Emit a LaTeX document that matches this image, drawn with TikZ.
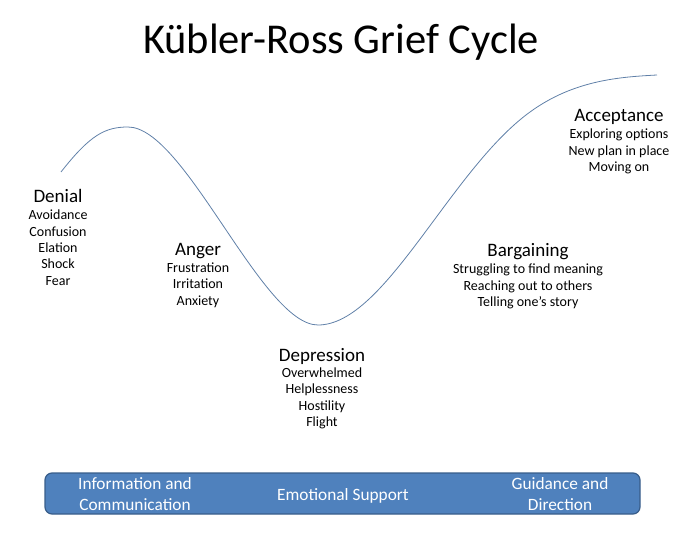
\documentclass[tikz,border=0pt]{standalone}
\usepackage{fontspec}
\setmainfont{Carlito}
\usetikzlibrary{positioning, calc}
\definecolor{curveblue}{RGB}{96, 128, 168}
\definecolor{barblue}{RGB}{79, 129, 189}
\definecolor{bardark}{RGB}{56, 93, 138}

\begin{document}
\begin{tikzpicture}[x=1pt, y=-1pt,
    stage/.style={inner sep=0pt, anchor=base, font=\fontsize{19}{22}\selectfont},
    detail/.style={inner sep=0pt, anchor=base, align=center,
                   font=\fontsize{14}{16.4}\selectfont},
    bar/.style={draw=bardark, fill=barblue, line width=1.2pt, rounded corners=7pt,
                minimum width=595pt, minimum height=41pt, inner sep=0pt},
    support/.style={inner sep=0pt, anchor=base, align=center, text=white,
                    font=\fontsize{17.3}{20.7}\selectfont}
]
    \useasboundingbox (0,0) rectangle (676,534);
    \node[inner sep=0pt, anchor=base, font=\fontsize{42.5}{50}\selectfont] (title) at (341,54)
        {Kübler-Ross Grief Cycle};

    % grief curve
    \draw[curveblue, line width=0.8pt] (61,172)
        .. controls (90,135) and (105,127) .. (128,127)
        .. controls (185,127) and (262,325) .. (318,325)
        .. controls (385,325) and (450,170) .. (530,112)
        .. controls (574,80) and (620,77) .. (657,75);

    % stages (detail base = last line)
    \node[stage] (denial) at (58,203) {Denial};
    \node[detail] (denialtext) at ($(denial.base)+(0,82.3)$)
        {Avoidance\\Confusion\\Elation\\Shock\\Fear};
    \node[stage] (anger) at (198,255) {Anger};
    \node[detail] (angertext) at ($(anger.base)+(0,50)$)
        {Frustration\\Irritation\\Anxiety};
    \node[stage] (depression) at (322,361) {Depression};
    \node[detail] (depressiontext) at ($(depression.base)+(0,65.5)$)
        {Overwhelmed\\Helplessness\\Hostility\\Flight};
    \node[stage] (bargaining) at (528,256) {Bargaining};
    \node[detail] (bargainingtext) at ($(bargaining.base)+(0,50.5)$)
        {Struggling to find meaning\\Reaching out to others\\Telling one’s story};
    \node[stage] (acceptance) at (619,121.5) {Acceptance};
    \node[detail] (acceptancetext) at ($(acceptance.base)+(0,50)$)
        {Exploring options\\New plan in place\\Moving on};

    % support bar
    \node[bar] (supportbar) at (342.5,493.5) {};
    \node[support] (info) at (135,510) {Information and\\Communication};
    \node[support] (emotional) at (343,500) {Emotional Support};
    \node[support] (guidance) at (560,510) {Guidance and\\Direction};
\end{tikzpicture}
\end{document}
